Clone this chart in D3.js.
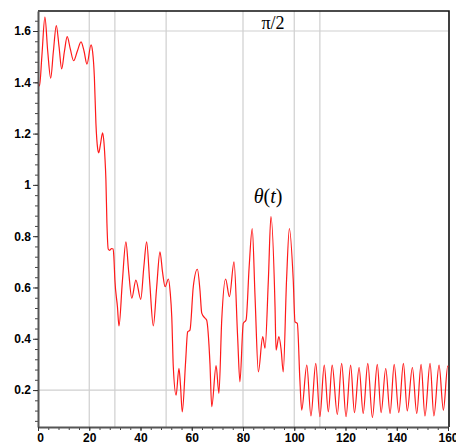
<!DOCTYPE html>
<html>
<head>
<meta charset="utf-8">
<script src="https://cdn.jsdelivr.net/npm/d3@7"></script>
<style>
  body { margin: 0; background: #fff; }
  svg { display: block; }
  .tick text { font-family: "Liberation Sans", Arial, sans-serif; font-weight: bold; font-size: 12px; fill: #000; }
  .note { font-family: "Liberation Serif", "Times New Roman", serif; fill: #000; }
</style>
</head>
<body>
<svg></svg>
<script>
// theta(t)
const tVals = [0,0.6,1.5,2.7,3.8,4.95,6.0,7.15,8.2,9.24,10.3,11.4,12.6,13.9,15.3,16.8,18.0,19.1,20.7,21.3,
  22.0,22.6,23.3,23.7,24.4,25.2,25.7,26.1,26.5,26.9,27.4,28.0,28.7,29.3,29.6,30.0,31.0,31.6,32.9,34.3,
  35.4,36.6,38.2,40.1,41.3,42.4,43.6,45.0,46.3,47.6,48.6,49.6,50.9,51.6,52.2,52.8,53.9,55.0,55.6,56.3,
  57.6,58.4,59.3,60.6,62.2,63.2,63.9,65.2,65.8,67.1,67.8,69.5,70.6,71.7,73.2,74.7,76.5,77.9,78.8,80.1,
  81.2,82.4,83.6,84.7,86.0,87.7,88.6,89.9,90.9,92.5,92.9,94.0,94.9,95.7,97.0,98.1,99.6,100.3,101.2,102.2,
  102.9,104.9,106.5,108.4,110.0,111.7,113.3,114.8,116.8,118.5,120.2,122.0,123.5,125.3,126.9,128.7,130.5,132.4,133.9,135.7,
  137.4,139.0,140.8,142.6,144.1,146.1,147.8,149.5,151.0,153.0,154.5,156.5,158.2,159.9,160];
const thetaVals = [1.40,1.386,1.50,1.654,1.52,1.416,1.52,1.621,1.54,1.452,1.52,1.578,1.53,1.484,1.52,1.558,1.52,1.471,1.546,1.52,
  1.42,1.24,1.14,1.125,1.16,1.203,1.17,1.11,1.02,0.85,0.75,0.745,0.752,0.75,0.72,0.63,0.525,0.45,0.62,0.778,
  0.66,0.558,0.629,0.554,0.68,0.778,0.62,0.45,0.60,0.739,0.66,0.603,0.633,0.58,0.486,0.291,0.180,0.285,0.22,0.115,
  0.31,0.427,0.434,0.603,0.671,0.59,0.50,0.48,0.473,0.305,0.135,0.295,0.187,0.473,0.633,0.564,0.70,0.408,0.232,0.46,
  0.473,0.68,0.83,0.564,0.271,0.408,0.363,0.63,0.876,0.525,0.356,0.408,0.356,0.271,0.63,0.83,0.63,0.466,0.46,0.239,
  0.122,0.297,0.099,0.304,0.096,0.297,0.115,0.297,0.105,0.304,0.096,0.297,0.112,0.288,0.109,0.304,0.093,0.30,0.112,0.284,
  0.109,0.30,0.112,0.304,0.119,0.288,0.109,0.30,0.099,0.304,0.099,0.297,0.122,0.293,0.29];

const xMajor = [0,20,40,60,80,100,120,140,160];
const yMajor = [0.2,0.4,0.6,0.8,1,1.2,1.4,1.6];
const xGrid = [20,30,50,80,100,110];
const yGrid = [0.2,1.6];

const width = 456, height = 444;
const svg = d3.select('svg').attr('width',width).attr('height',height);

const x = d3.scaleLinear().domain([0,160]).range([38,448]);
const y = d3.scaleLinear().domain([0.056,1.678]).range([427,11]);

const data = tVals.map((t,i)=>({t:t, v:thetaVals[i]}));

// grid
svg.append('g').selectAll('line').data(xGrid).enter().append('line')
  .attr('x1',d=>x(d)).attr('x2',d=>x(d)).attr('y1',y.range()[1]).attr('y2',y.range()[0])
  .attr('stroke','#cfcfcf').attr('stroke-width',1.2);
svg.append('g').selectAll('line').data(yGrid).enter().append('line')
  .attr('y1',d=>y(d)).attr('y2',d=>y(d)).attr('x1',x.range()[0]).attr('x2',x.range()[1])
  .attr('stroke','#cfcfcf').attr('stroke-width',1.2);

// top/right border
svg.append('path')
  .attr('d',`M${x.range()[0]},${y.range()[1]}H${x.range()[1]+1}V${y.range()[0]}`)
  .attr('fill','none').attr('stroke','#111').attr('stroke-width',1.6);

// curve
svg.append('path').datum(data)
  .attr('fill','none').attr('stroke','#ff1a1a').attr('stroke-width',1.2)
  .attr('d',d3.line().x(d=>x(d.t)).y(d=>y(d.v)).curve(d3.curveMonotoneX));

// minor ticks
const yMinor = d3.range(0.08,1.66,0.04).map(d=>+d.toFixed(2));
const xMinor = d3.range(0,161,4);
svg.append('g').attr('transform',`translate(${x.range()[0]},0)`)
  .call(d3.axisLeft(y).tickValues(yMinor).tickSize(3).tickFormat(''))
  .call(g=>g.select('.domain').remove())
  .selectAll('line').attr('stroke','#444');
svg.append('g').attr('transform',`translate(0,${y.range()[0]})`)
  .call(d3.axisBottom(x).tickValues(xMinor).tickSize(3).tickFormat(''))
  .call(g=>g.select('.domain').remove())
  .selectAll('line').attr('stroke','#444');

// major axes
const yAxis = svg.append('g').attr('transform',`translate(${x.range()[0]},0)`)
  .call(d3.axisLeft(y).tickValues(yMajor).tickSize(5).tickSizeOuter(0).tickPadding(2)
    .tickFormat(d=>d===1?'1':d3.format('.1f')(d)));
const xAxis = svg.append('g').attr('transform',`translate(0,${y.range()[0]})`)
  .call(d3.axisBottom(x).tickValues(xMajor).tickSize(4).tickSizeOuter(0).tickPadding(2));
[yAxis,xAxis].forEach(g=>{
  g.select('.domain').attr('stroke','#555').attr('stroke-width',2);
  g.selectAll('.tick line').attr('stroke','#333');
});
xAxis.selectAll('.tick text').attr('dx',d=>d===0?2:0);

// annotations
svg.append('text').attr('class','note')
  .attr('x',x(91.7)).attr('y',y(1.6)-2).attr('text-anchor','middle')
  .style('font-size','18px').text('π/2');
svg.append('text').attr('class','note')
  .attr('x',x(89.8)).attr('y',y(0.93)).attr('text-anchor','middle')
  .style('font-size','20px')
  .html('<tspan font-style="italic">θ</tspan>(<tspan font-style="italic">t</tspan>)');
svg.append('text').attr('class','note')
  .attr('x',x(148)).attr('y',height+11).style('font-style','italic')
  .style('font-size','18px').text('t');
</script>
</body>
</html>
